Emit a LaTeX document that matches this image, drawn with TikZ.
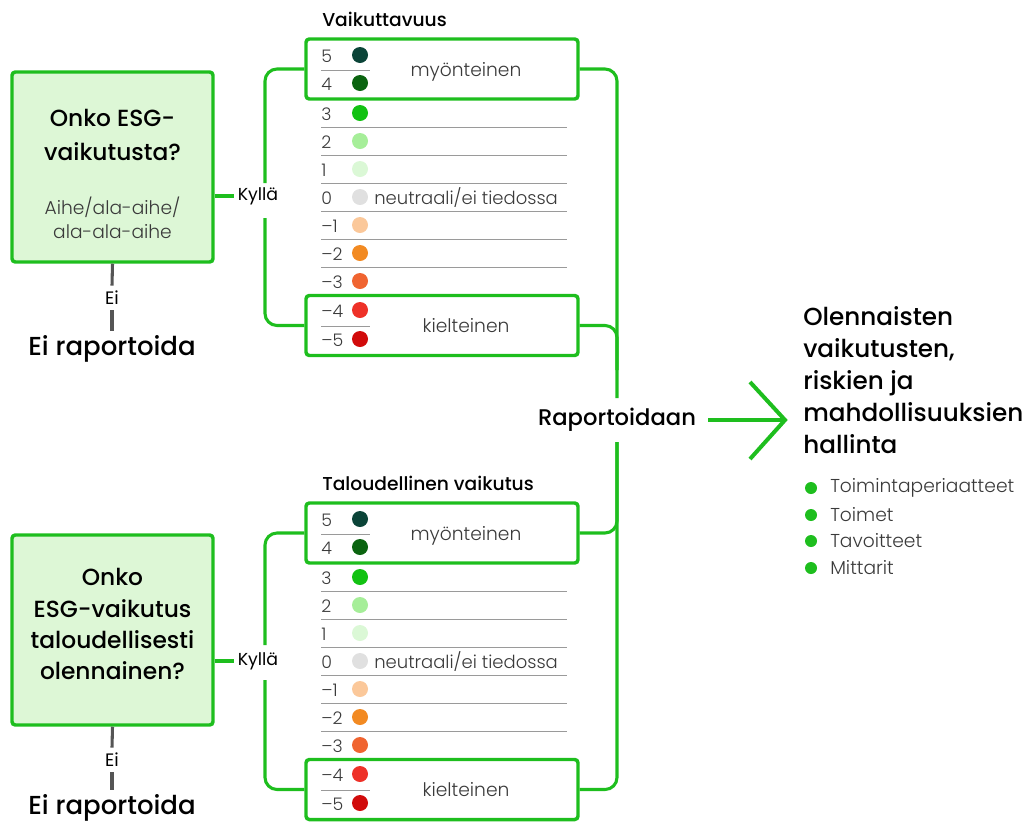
\documentclass[tikz,border=0pt]{standalone}
\usepackage{fontspec}
\setmainfont{Poppins}[BoldFont={Poppins Medium}]
\newfontfamily\lightfont{Poppins Light}
\definecolor{grn}{HTML}{1EBE1E}
\definecolor{boxfill}{HTML}{DDF7D6}
\definecolor{txtgray}{HTML}{3A3A3A}
\definecolor{sepgray}{HTML}{9A9A9A}
\definecolor{eigray}{HTML}{555555}
\definecolor{dA}{HTML}{0B4438}
\definecolor{dB}{HTML}{0B6410}
\definecolor{dC}{HTML}{12C212}
\definecolor{dD}{HTML}{A6EE99}
\definecolor{dE}{HTML}{DBF8D6}
\definecolor{dF}{HTML}{E0E0E0}
\definecolor{dG}{HTML}{FBC89A}
\definecolor{dH}{HTML}{F28A22}
\definecolor{dI}{HTML}{F06430}
\definecolor{dJ}{HTML}{EE3128}
\definecolor{dK}{HTML}{D10B0B}
\tikzset{
  qbox/.style={draw=grn, fill=boxfill, line width=2.6pt, rounded corners=2.5pt, minimum width=150.75pt, minimum height=142.5pt, inner sep=0pt},
  scalebox/.style={draw=grn, line width=2.6pt, rounded corners=2.5pt, minimum width=204pt, minimum height=45pt, inner sep=0pt},
  conn/.style={draw=grn, line width=2.3pt, rounded corners=9pt},
  arrowline/.style={draw=grn, line width=3pt, line join=miter},
  eiline/.style={draw=eigray, line width=2.3pt},
  num/.style={font=\lightfont\fontsize{13}{15}\selectfont, text=txtgray, anchor=west, inner sep=0pt},
  lighttxt/.style={font=\lightfont\fontsize{14}{16}\selectfont, text=txtgray, inner sep=0pt},
  scaledot/.style={circle, minimum size=12pt, inner sep=0pt},
  bulletdot/.style={circle, fill=grn, minimum size=9pt, inner sep=0pt},
  sepline/.style={draw=sepgray, line width=0.6pt},
  head/.style={font=\bfseries\fontsize{17.5}{26}\selectfont, align=center, inner sep=0pt},
  sub/.style={font=\lightfont\fontsize{14}{18}\selectfont, text=txtgray, align=center, inner sep=0pt},
  kylla/.style={font=\fontsize{13}{15}\selectfont, inner sep=2.5pt},
  eilabel/.style={font=\fontsize{13.5}{15}\selectfont, inner sep=4pt},
  noreport/.style={font=\bfseries\fontsize{19.5}{22}\selectfont, inner sep=3pt},
  sectitle/.style={font=\bfseries\fontsize{14}{16}\selectfont, anchor=west, inner sep=0pt},
}
\begin{document}
\begin{tikzpicture}[x=0.75pt,y=-0.75pt]
\useasboundingbox (0,0) rectangle (1027,822);

% question boxes
\node[qbox] (q1) at (112.5,167) {};
\node[head] (q1h) at (112.5,135) {Onko ESG-\\vaikutusta?};
\node[sub] (q1s) at (112.5,218) {Aihe/ala-aihe/\\ala-ala-aihe};
\node[qbox] (q2) at (112.5,630) {};
\node[head, font=\bfseries\fontsize{17.5}{23.3}\selectfont] (q2h) at (112.5,624) {Onko\\ESG-vaikutus\\taloudellisesti\\olennainen?};

% Ei branches
\node[eilabel] (ei1) at (112,298) {Ei};
\node[noreport] (nr1) at (112,349) {Ei raportoida};
\draw[eiline] (q1.south) -- (ei1.north);
\draw[eiline] (ei1.south) -- (nr1.north);
\node[eilabel] (ei2) at (112,760) {Ei};
\node[noreport] (nr2) at (112,808) {Ei raportoida};
\draw[eiline] (q2.south) -- (ei2.north);
\draw[eiline] (ei2.south) -- (nr2.north);

% scales
\node[sectitle] (t1) at (322,19) {Vaikuttavuus};
\node[sectitle] (t2) at (322,483) {Taloudellinen vaikutus};

\foreach \s/\off in {a/0,b/464}{
  \node[scalebox] (pos\s) at (442,{69+\off}) {};
  \node[scalebox] (neg\s) at (442,{325.5+\off}) {};
  \foreach \lab/\col/\yy in {5/dA/56, 4/dB/84, 3/dC/114, 2/dD/142, 1/dE/170, 0/dF/198, –1/dG/226, –2/dH/254, –3/dI/282, –4/dJ/311, –5/dK/340}{
    \node[num] (n\s\yy) at (321,{\yy+\off}) {\lab};
    \node[scaledot, fill=\col] (d\s\yy) at (360,{\yy+\off-1}) {};
  }
  \foreach \yy in {127,155,183,211,239,267}{
    \draw[sepline] (321,{\yy+\off}) -- (567,{\yy+\off});
  }
  \draw[sepline] (321,{70+\off}) -- (370,{70+\off});
  \draw[sepline] (321,{326+\off}) -- (370,{326+\off});
  \node[lighttxt] (my\s) at (466,{72+\off}) {myönteinen};
  \node[lighttxt] (ki\s) at (466,{326+\off}) {kielteinen};
  \node[lighttxt, anchor=west, font=\lightfont\fontsize{13.5}{15}\selectfont] (ne\s) at (374,{198+\off}) {neutraali/ei tiedossa};
}

% Kyllä connectors
\node[kylla] (k1) at (258,196) {Kyllä};
\node[kylla] (k2) at (258,661) {Kyllä};
\draw[conn] (q1.east |- k1) -- (k1.west);
\draw[conn] (q2.east |- k2) -- (k2.west);
\coordinate (b1t) at (265,183);
\coordinate (b1b) at (265,218);
\coordinate (b2t) at (265,645);
\coordinate (b2b) at (265,680);
\draw[conn] (posa.west) -| (b1t);
\draw[conn] (nega.west) -| (b1b);
\draw[conn] (posb.west) -| (b2t);
\draw[conn] (negb.west) -| (b2b);

% right bracket
\node[font=\bfseries\fontsize{17}{19}\selectfont, inner xsep=9pt, inner ysep=4pt] (R) at (617,420) {Raportoidaan};
\coordinate (rt) at (617,398);
\coordinate (rj) at (617,370);
\coordinate (rb) at (617,442);
\draw[conn] (posa.east) -| (rt);
\draw[conn] (nega.east) -| (rj);
\draw[conn] (rb) |- (posb.east);
\draw[conn] (rb) |- (negb.east);

% arrow
\coordinate (tip) at (785,420);
\coordinate (ch1) at (750,382);
\coordinate (ch2) at (750,459);
\draw[arrowline] (R.east) -- (tip);
\draw[arrowline] (ch1) -- (tip) -- (ch2);

% outcome
\node[font=\bfseries\fontsize{18.5}{24}\selectfont, align=left, anchor=west, inner sep=0pt] (out) at (803,380)
  {Olennaisten\\vaikutusten,\\riskien ja\\mahdollisuuksien\\hallinta};
\foreach \yy/\txt in {488/Toimintaperiaatteet, 515/Toimet, 541/Tavoitteet, 568/Mittarit}{
  \node[bulletdot] (bd\yy) at (811,\yy) {};
  \node[lighttxt, anchor=west] (bt\yy) at (830,\yy) {\txt};
}
\end{tikzpicture}
\end{document}
